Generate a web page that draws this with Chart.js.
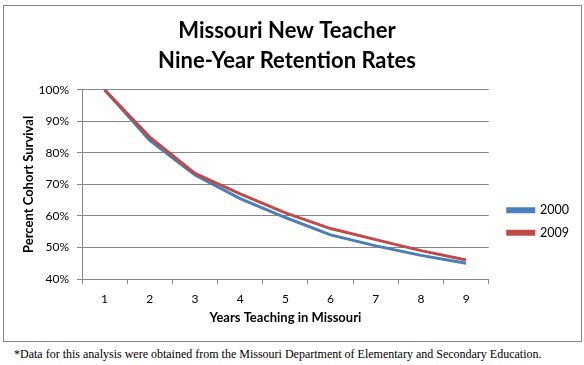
<!DOCTYPE html>
<html>
<head>
<meta charset="utf-8">
<script src="https://cdn.jsdelivr.net/npm/chart.js@4.4.1/dist/chart.umd.min.js"></script>
<style>
  html, body { margin: 0; padding: 0; background: #fff; width: 584px; height: 365px; overflow: hidden; }
  #box { position: absolute; left: 3px; top: 5px; width: 577px; height: 335px; border: 1px solid #868686; }
  #c { display: block; }
  #note { position: absolute; left: 14px; top: 347px; font-family: "Liberation Serif", "Times New Roman", serif; font-size: 12px; color: #000; white-space: nowrap; }
</style>
</head>
<body>
<div id="box"><canvas id="c" width="577" height="335"></canvas></div>
<div id="note">*Data for this analysis were obtained from the Missouri Department of Elementary and Secondary Education.</div>
<script>
const titleLines = ['Missouri New Teacher', 'Nine-Year Retention Rates'];
const years = ['1', '2', '3', '4', '5', '6', '7', '8', '9'];
const series2000 = [100, 84, 73, 65.5, 59.5, 54, 50.5, 47.5, 45];
const series2009 = [100, 85, 73.5, 67, 61, 56, 52.5, 49, 46];
const yTicks = [40, 50, 60, 70, 80, 90, 100];

const FONT = 'Lato, "Open Sans", sans-serif';
const grey = '#868686';

const legendShift = {
  id: 'legendShift',
  afterLayout(chart) {
    const l = chart.legend;
    if (!l) return;
    l.top += 48; l.bottom += 48;
    l.left += 9; l.right += 9;
  }
};

new Chart(document.getElementById('c'), {
  type: 'line',
  data: {
    labels: years,
    datasets: [
      { label: '2000', data: series2000, borderColor: '#4A7EBB', backgroundColor: '#4A7EBB', borderWidth: 3, pointRadius: 0, tension: 0, order: 1 },
      { label: '2009', data: series2009, borderColor: '#BE4B48', backgroundColor: '#BE4B48', borderWidth: 3, pointRadius: 0, tension: 0, order: 0 }
    ]
  },
  plugins: [legendShift],
  options: {
    responsive: false,
    animation: false,
    layout: { padding: { left: 0, right: 11, top: 0, bottom: 0 } },
    plugins: {
      tooltip: { enabled: false },
      title: {
        display: true,
        text: titleLines,
        color: '#000',
        font: { family: FONT, size: 22, weight: 'bold', lineHeight: 1.36 },
        padding: { top: 10, bottom: 14 }
      },
      legend: {
        position: 'right',
        align: 'center',
        labels: {
          color: '#000',
          font: { family: FONT, size: 12.5 },
          boxWidth: 26,
          boxHeight: 3,
          padding: 10,
          sort: (a, b) => a.datasetIndex - b.datasetIndex
        }
      }
    },
    scales: {
      x: {
        type: 'category',
        offset: true,
        afterFit: s => { s.height = 62; },
        grid: { display: true, offset: true, drawOnChartArea: false, drawTicks: true, tickLength: 5, color: grey },
        border: { color: grey },
        ticks: { color: '#000', font: { family: FONT, size: 12 }, padding: 8, maxRotation: 0 },
        title: { display: true, text: 'Years Teaching in Missouri', color: '#000', font: { family: FONT, size: 13, weight: 'bold' }, padding: { top: 0, bottom: 15 } }
      },
      y: {
        min: 40,
        max: 100,
        afterFit: s => { s.width = 78; },
        afterBuildTicks: s => { s.ticks = yTicks.map(v => ({ value: v })); },
        grid: { color: grey, tickLength: 5 },
        border: { color: grey },
        ticks: { color: '#000', font: { family: FONT, size: 12 }, padding: 8, callback: v => v + '%' },
        title: { display: true, text: 'Percent Cohort Survival', color: '#000', font: { family: FONT, size: 13, weight: 'bold' }, padding: { top: 17, bottom: 0 } }
      }
    }
  }
});
</script>
</body>
</html>
